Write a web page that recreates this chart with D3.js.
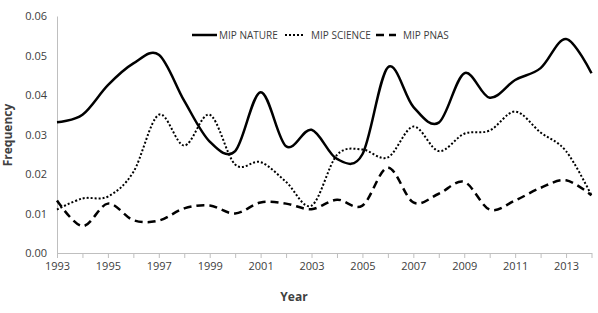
<!DOCTYPE html>
<html>
<head>
<meta charset="utf-8">
<script src="https://cdn.jsdelivr.net/npm/d3@7"></script>
<style>
  body { margin: 0; background: #fff; }
  text { font-family: "Open Sans", sans-serif; fill: #404040; }
</style>
</head>
<body>
<div id="chart"></div>
<script>
// Years on the x axis
const years = d3.range(1993, 2015);

// Series values
const natureValues = [0.0331, 0.0350, 0.0425, 0.0480, 0.0502, 0.0385, 0.0282, 0.0258, 0.0407, 0.0270,
  0.0312, 0.0238, 0.0250, 0.0470, 0.0370, 0.0330, 0.0455, 0.0393, 0.0438, 0.0468, 0.0542, 0.0455];
const scienceValues = [0.0110, 0.0138, 0.0143, 0.0205, 0.0350, 0.0272, 0.0350, 0.0224, 0.0230, 0.0180,
  0.0120, 0.0248, 0.0262, 0.0242, 0.0320, 0.0258, 0.0302, 0.0310, 0.0358, 0.0305, 0.0258, 0.0146];
const pnasValues = [0.0133, 0.0068, 0.0125, 0.0083, 0.0082, 0.0113, 0.0120, 0.0100, 0.0128, 0.0125,
  0.0111, 0.0135, 0.0120, 0.0216, 0.0128, 0.0150, 0.0180, 0.0110, 0.0133, 0.0165, 0.0184, 0.0146];

const seriesNames = ["MIP NATURE", "MIP SCIENCE", "MIP PNAS"];
const yTicks = [0, 0.01, 0.02, 0.03, 0.04, 0.05, 0.06];
const xTickLabels = d3.range(1993, 2014, 2);

const width = 598, height = 313;
const margin = { left: 57, right: 6.5, top: 16, bottom: 60 };

const svg = d3.select("#chart").append("svg")
    .attr("width", width)
    .attr("height", height);

const x = d3.scaleLinear().domain([1993, 2014]).range([margin.left, width - margin.right]);
const y = d3.scaleLinear().domain([0, 0.06]).range([height - margin.bottom, margin.top]);

// line styles per series
const styles = [
    { width: 2.5, dash: null },
    { width: 2, dash: "2,2" },
    { width: 2.5, dash: "8,5" }
];

// y axis: labels only plus a grey line
const yAxis = svg.append("g")
    .attr("transform", `translate(${margin.left},0)`)
    .call(d3.axisLeft(y).tickValues(yTicks).tickFormat(d3.format(".2f")).tickSize(0).tickPadding(10));
yAxis.select(".domain").attr("stroke", "#bfbfbf");
yAxis.selectAll("text").style("font-size", "11px").attr("fill", "#404040").style("font-family", "Open Sans");

// x axis with a tick for every year
const xAxis = svg.append("g")
    .attr("transform", `translate(0,${y(0)})`)
    .call(d3.axisBottom(x).tickValues(years).tickSizeInner(5).tickSizeOuter(0)
        .tickFormat(d => xTickLabels.includes(d) ? d : "").tickPadding(4));
xAxis.select(".domain").attr("stroke", "#bfbfbf");
xAxis.selectAll(".tick line").attr("stroke", "#bfbfbf");
xAxis.selectAll("text").style("font-size", "11px").attr("fill", "#404040").style("font-family", "Open Sans");

// lines, smoothed like the spreadsheet chart
const line = d3.line()
    .x((d, i) => x(years[i]))
    .y(d => y(d))
    .curve(d3.curveCardinal.tension(0));

[natureValues, scienceValues, pnasValues].forEach((vals, i) => {
    svg.append("path")
        .datum(vals)
        .attr("d", line)
        .attr("fill", "none")
        .attr("stroke", "#000")
        .attr("stroke-width", styles[i].width)
        .attr("stroke-dasharray", styles[i].dash);
});

// legend
const legendX = [192, 285, 376];
const legend = svg.append("g");
seriesNames.forEach((name, i) => {
    const g = legend.append("g").attr("transform", `translate(${legendX[i]},35)`);
    g.append("line")
        .attr("x1", 0).attr("x2", i === 0 ? 25 : 20)
        .attr("stroke", "#000")
        .attr("stroke-width", styles[i].width)
        .attr("stroke-dasharray", styles[i].dash);
    g.append("text")
        .attr("x", i === 0 ? 27 : (i === 1 ? 26 : 27))
        .attr("dy", "0.35em")
        .style("font-size", "10px")
        .text(name);
});

// axis titles
svg.append("text")
    .attr("x", 294).attr("y", 297)
    .attr("text-anchor", "middle").attr("dy", "0.35em")
    .style("font-size", "12px").style("font-weight", "bold")
    .text("Year");

svg.append("text")
    .attr("transform", "translate(8,135) rotate(-90)")
    .attr("text-anchor", "middle").attr("dy", "0.35em")
    .style("font-size", "12px").style("font-weight", "bold")
    .text("Frequency");
</script>
</body>
</html>
